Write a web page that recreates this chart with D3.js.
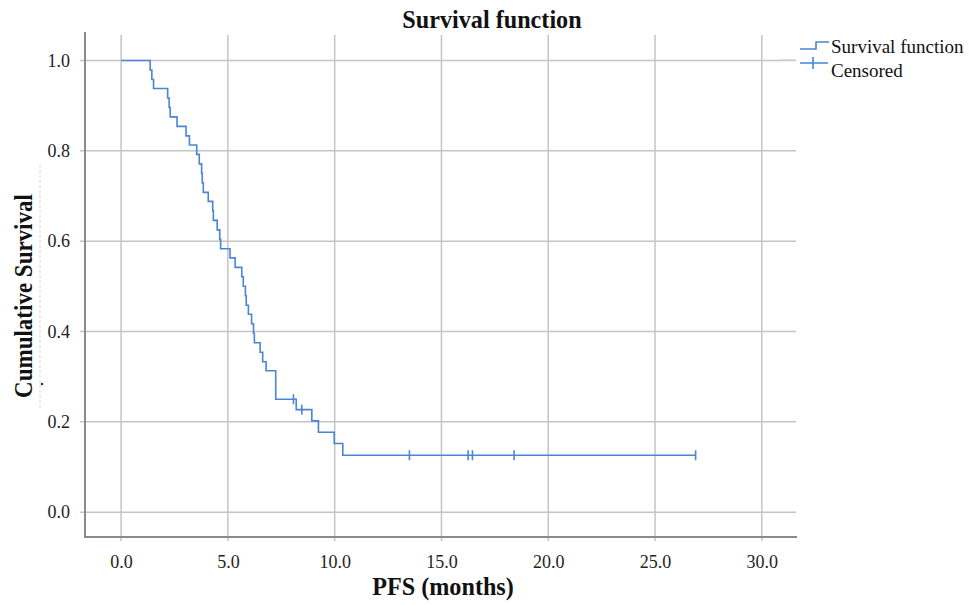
<!DOCTYPE html>
<html>
<head>
<meta charset="utf-8">
<script src="https://cdn.jsdelivr.net/npm/d3@7"></script>
<style>
    body { margin: 0; background: #fff; }
    text { font-family: "Liberation Serif", "Times New Roman", serif; }
</style>
</head>
<body>
<div id="chart"></div>
<script>
// step times (months) and survival after each drop
var stepTimes = [1.36, 1.44, 1.52, 2.18, 2.25, 2.30, 2.62, 3.04, 3.20, 3.54,
    3.66, 3.77, 3.80, 3.85, 4.08, 4.29, 4.32, 4.50, 4.62, 4.66,
    5.10, 5.34, 5.65, 5.72, 5.82, 5.86, 5.96, 6.11, 6.20, 6.24,
    6.51, 6.63, 6.79, 7.24, 8.20, 8.93, 9.24, 9.98, 10.38];
var stepSurvival = [0.979, 0.958, 0.938, 0.917, 0.896, 0.875, 0.854, 0.833, 0.813, 0.792,
    0.771, 0.750, 0.729, 0.708, 0.688, 0.667, 0.646, 0.625, 0.604, 0.583,
    0.563, 0.542, 0.521, 0.500, 0.479, 0.458, 0.438, 0.417, 0.396, 0.375,
    0.354, 0.333, 0.313, 0.250, 0.227, 0.202, 0.177, 0.152, 0.126];

var censorTimes = [8.07, 8.46, 13.5, 16.25, 16.45, 18.4, 26.9];
var censorSurvival = [0.250, 0.227, 0.126, 0.126, 0.126, 0.126, 0.126];

var xTicks = [0, 5, 10, 15, 20, 25, 30];
var yTicks = [0, 0.2, 0.4, 0.6, 0.8, 1.0];

function survivalChart(parentId) {

    let width = 969;
    let height = 605;
    let lineColor = '#4b84d6';
    let gridColor = '#c4c4c4';

    let svg = d3.select('#' + parentId).append('svg')
        .attr('width', width)
        .attr('height', height);

    let xScale = d3.scaleLinear()
        .domain([-1.69, 31.6])
        .range([85, 796]);
    let yScale = d3.scaleLinear()
        .domain([-0.055, 1.063])
        .range([537, 32]);

    // grid
    let grid = svg.append('g').classed('grid', true);
    grid.selectAll('.hgrid')
        .data(yTicks)
        .enter().append('line')
        .attr('x1', 80)
        .attr('x2', 796)
        .attr('y1', function (d) { return yScale(d); })
        .attr('y2', function (d) { return yScale(d); })
        .style('stroke', gridColor)
        .style('stroke-width', 1.5);
    grid.selectAll('.vgrid')
        .data(xTicks)
        .enter().append('line')
        .attr('x1', function (d) { return xScale(d); })
        .attr('x2', function (d) { return xScale(d); })
        .attr('y1', 35)
        .attr('y2', 541)
        .style('stroke', gridColor)
        .style('stroke-width', 1.5);

    // axes, labels only
    let xAxis = d3.axisBottom(xScale)
        .tickValues(xTicks)
        .tickSize(0)
        .tickPadding(18)
        .tickFormat(d3.format('.1f'));
    let yAxis = d3.axisLeft(yScale)
        .tickValues(yTicks)
        .tickSize(0)
        .tickPadding(15)
        .tickFormat(d3.format('.1f'));

    let xg = svg.append('g')
        .attr('transform', 'translate(0,537)')
        .call(xAxis);
    let yg = svg.append('g')
        .attr('transform', 'translate(85,0)')
        .call(yAxis);

    [xg, yg].forEach(function (g) {
        g.select('.domain').remove();
        g.selectAll('text')
            .style('font-family', '"Liberation Serif", serif')
            .style('font-size', '18px')
            .style('fill', '#222');
    });

    svg.append('line')
        .attr('x1', 85).attr('x2', 85)
        .attr('y1', 32).attr('y2', 538)
        .style('stroke', '#8a8a8a')
        .style('stroke-width', 2);
    svg.append('line')
        .attr('x1', 84).attr('x2', 797)
        .attr('y1', 537).attr('y2', 537)
        .style('stroke', '#8a8a8a')
        .style('stroke-width', 2);

    // survival curve
    let points = [[0, 1]];
    stepTimes.forEach(function (t, i) {
        points.push([t, stepSurvival[i]]);
    });
    points.push([d3.max(censorTimes), stepSurvival[stepSurvival.length - 1]]);

    let line = d3.line()
        .x(function (d) { return xScale(d[0]); })
        .y(function (d) { return yScale(d[1]); })
        .curve(d3.curveStepAfter);

    svg.append('path')
        .datum(points)
        .attr('d', line)
        .style('fill', 'none')
        .style('stroke', lineColor)
        .style('stroke-width', 1.6);

    svg.selectAll('.censor')
        .data(censorTimes)
        .enter().append('line')
        .classed('censor', true)
        .attr('x1', function (d) { return xScale(d); })
        .attr('x2', function (d) { return xScale(d); })
        .attr('y1', function (d, i) { return yScale(censorSurvival[i]) - 5; })
        .attr('y2', function (d, i) { return yScale(censorSurvival[i]) + 5; })
        .style('stroke', lineColor)
        .style('stroke-width', 1.6);

    // titles (slightly condensed like the original)
    svg.append('text')
        .attr('transform', 'translate(492,28) scale(0.93,1)')
        .attr('text-anchor', 'middle')
        .style('font-size', '26px')
        .style('font-weight', 'bold')
        .style('fill', '#111')
        .text('Survival function');

    svg.append('text')
        .attr('transform', 'translate(443,595) scale(0.93,1)')
        .attr('text-anchor', 'middle')
        .style('font-size', '26px')
        .style('font-weight', 'bold')
        .style('fill', '#111')
        .text('PFS (months)');

    svg.append('text')
        .attr('transform', 'translate(32,296) rotate(-90) scale(0.92,1)')
        .attr('text-anchor', 'middle')
        .style('font-size', '25px')
        .style('font-weight', 'bold')
        .style('fill', '#111')
        .text('Cumulative Survival');

    // faint scan artefact beside the y label
    svg.append('line')
        .attr('x1', 40).attr('x2', 40)
        .attr('y1', 165).attr('y2', 410)
        .style('stroke', '#d6d6d6')
        .style('stroke-width', 1)
        .style('stroke-dasharray', '3,2');
    svg.append('circle')
        .attr('cx', 42).attr('cy', 384).attr('r', 1.3)
        .style('fill', '#333');

    // legend
    let legend = svg.append('g').classed('legend', true);
    legend.append('line')
        .attr('x1', 780).attr('x2', 795)
        .attr('y1', 60).attr('y2', 60)
        .style('stroke', '#d0d0d0')
        .style('stroke-width', 1.2);
    legend.append('path')
        .attr('d', 'M800,49H816V42H829')
        .style('fill', 'none')
        .style('stroke', lineColor)
        .style('stroke-width', 1.6);
    legend.append('path')
        .attr('d', 'M800,63H828M813,57V69')
        .style('fill', 'none')
        .style('stroke', lineColor)
        .style('stroke-width', 1.6);
    legend.selectAll('.ltext')
        .data(['Survival function', 'Censored'])
        .enter().append('text')
        .attr('x', 831)
        .attr('y', function (d, i) { return 53 + i * 24; })
        .style('font-size', '19px')
        .style('fill', '#111')
        .text(function (d) { return d; });
}

survivalChart('chart');
</script>
</body>
</html>
